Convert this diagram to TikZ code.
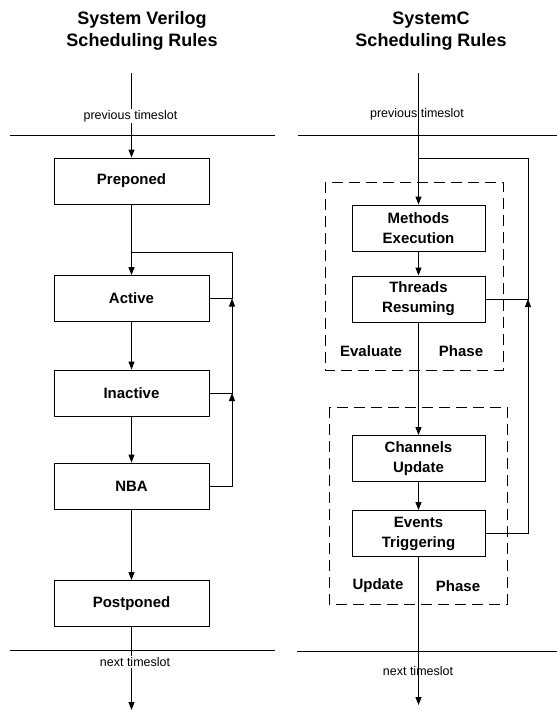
\documentclass[tikz,border=0pt]{standalone}
\usepackage{fontspec}
\setmainfont{Liberation Sans}
\usetikzlibrary{arrows.meta}

\begin{document}
\begin{tikzpicture}[x=1pt, y=-1pt, line width=0.9pt,
  >={Triangle[length=8pt,width=6pt]},
  stage/.style={draw, minimum width=155pt, minimum height=46pt, inner sep=0pt,
    align=center, font=\fontsize{15}{20}\selectfont\bfseries},
  scstage/.style={stage, minimum width=133pt},
  slot/.style={font=\fontsize{12.5}{14}\selectfont, inner sep=1pt},
  heading/.style={align=center, font=\fontsize{18}{22}\selectfont\bfseries},
  phase/.style={font=\fontsize{15}{18}\selectfont\bfseries},
  region/.style={dash pattern=on 11pt off 6pt}]

  \useasboundingbox (0,0) rectangle (557,713);

  % titles
  \node[heading] (svtitle) at (142,31) {System Verilog\\Scheduling Rules};
  \node[heading] (sctitle) at (431,31) {SystemC\\Scheduling Rules};

  % timeslot borders
  \draw (10,135) -- (275,135);
  \draw (298,135) -- (557,135);
  \draw (10,650) -- (275,650);
  \draw (297,651) -- (557,651);

  % ---- System Verilog regions
  \node[stage] (pre)   at (131.5,181)   {Preponed};
  \node[stage] (act)   at (131.5,298.5) {Active};
  \node[stage] (inact) at (131.5,393)   {Inactive};
  \node[stage] (nba)   at (131.5,486)   {NBA};
  \node[stage] (post)  at (131.5,603.5) {Postponed};

  \coordinate (svin)  at (131.5,73);
  \coordinate (svout) at (131.5,710);
  \coordinate (svtop) at (131.5,252);
  \coordinate (fbtop) at (232,252);
  \coordinate (fbact) at (232,298.5);
  \coordinate (fbin)  at (232,393);

  \draw[->] (svin) -- (pre.north);
  \draw[->] (pre.south) -- (act.north);
  \draw[->] (act.south) -- (inact.north);
  \draw[->] (inact.south) -- (nba.north);
  \draw[->] (nba.south) -- (post.north);
  \draw[->] (post.south) -- (svout);

  % loop back into Active
  \draw (act.east) -- (fbact) -- (fbtop) -- (svtop);
  \draw[->] (inact.east) -| (fbact);
  \draw[->] (nba.east) -| (fbin);

  \node[slot, fill=white] (svprev) at (130.5,116) {previous timeslot};
  \node[slot, fill=white] (svnext) at (135,662)   {next timeslot};

  % ---- SystemC phases
  \draw[region] (325,182) rectangle (503,370);
  \draw[region] (329,407) rectangle (507,604);

  \node[scstage] (meth) at (418.5,228)   {Methods\\Execution};
  \node[scstage] (thr)  at (418.5,299)   {Threads\\Resuming};
  \node[scstage] (chan) at (418.5,458.5) {Channels\\Update};
  \node[scstage] (ev)   at (418.5,533.5) {Events\\Triggering};

  \node[phase] (evalw)  at (371,351) {Evaluate};
  \node[phase] (evalp)  at (461,351) {Phase};
  \node[phase] (updw)   at (378,586) {Update};
  \node[phase] (updp)   at (458,586) {Phase};

  \coordinate (scin)  at (418.5,73);
  \coordinate (scout) at (418.5,705);
  \coordinate (sctop) at (418.5,158);
  \coordinate (rtop)  at (528,158);
  \coordinate (rthr)  at (528,299);

  \draw[->] (scin) -- (meth.north);
  \draw[->] (meth.south) -- (thr.north);
  \draw[->] (thr.south) -- (chan.north);
  \draw[->] (chan.south) -- (ev.north);
  \draw[->] (ev.south) -- (scout);

  % delta cycle back to evaluate
  \draw (thr.east) -- (rthr) -- (rtop) -- (sctop);
  \draw[->] (ev.east) -| (rthr);

  \node[slot] (scprev) at (417,114) {previous timeslot};
  \node[slot] (scnext) at (418,671) {next timeslot};

\end{tikzpicture}
\end{document}
